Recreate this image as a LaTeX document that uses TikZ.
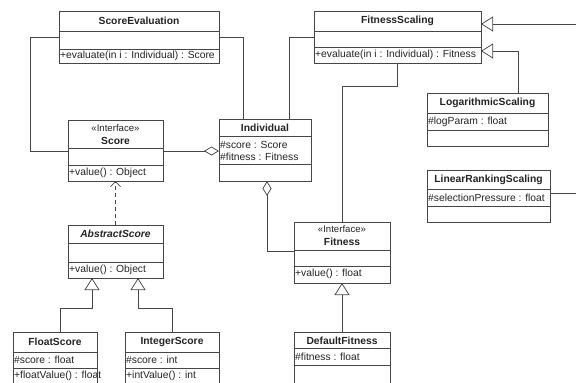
\documentclass[tikz,border=0pt]{standalone}
\usepackage{fontspec}
\setmainfont{Liberation Sans}
\usetikzlibrary{arrows.meta,shapes.geometric}
\definecolor{ln}{RGB}{70,70,70}
\definecolor{tx}{RGB}{35,35,35}
\tikzset{
  cls/.style={draw=ln, line width=0.75pt, anchor=north west, inner sep=0pt, outer sep=0pt},
  dv/.style={draw=ln, line width=0.75pt},
  ttl/.style={font=\fontsize{10.3}{11}\selectfont\bfseries, text=tx, inner sep=0pt, anchor=center},
  ster/.style={font=\fontsize{9.6}{11}\selectfont, text=tx, inner sep=0pt, anchor=center},
  mem/.style={font=\fontsize{10.3}{11}\selectfont, text=tx, inner sep=0pt, anchor=west},
  con/.style={draw=ln, line width=0.75pt},
  inh/.style={con, -{Triangle[open, length=12pt, width=15pt]}},
  agg/.style={con, {Diamond[open, length=15pt, width=9pt]}-},
  dep/.style={con, dashed, dash pattern=on 4pt off 3pt, -{Straight Barb[length=5pt, width=10pt]}},
}
\begin{document}
\begin{tikzpicture}[x=1pt, y=-1pt]
\useasboundingbox (0,0) rectangle (576,383);
\clip (0,0) rectangle (576,383);
% ScoreEvaluation
\node[cls, minimum width=160pt, minimum height=52pt] (se) at (59,11) {};
\draw[dv] (59,31) -- (219,31); \draw[dv] (59,49) -- (219,49);
\node[ttl] (set) at (139,21) {ScoreEvaluation};
\node[mem] (sem) at (60,56) {+evaluate(in i : Individual) : Score};
% Score
\node[cls, minimum width=95pt, minimum height=61pt] (sc) at (68,120) {};
\draw[dv] (68,148) -- (163,148); \draw[dv] (68,165) -- (163,165);
\node[ster] (scs) at (115.5,128) {«Interface»};
\node[ttl] (sct) at (115.5,141) {Score};
\node[mem] (scm) at (69,173) {+value() : Object};
% Individual
\node[cls, minimum width=92pt, minimum height=62pt] (in) at (219,119) {};
\draw[dv] (219,136) -- (311,136); \draw[dv] (219,164) -- (311,164);
\node[ttl] (int) at (265,128) {Individual};
\node[mem] (ina) at (220,145) {\#score : Score};
\node[mem] (inb) at (220,157) {\#fitness : Fitness};
% FitnessScaling
\node[cls, minimum width=167pt, minimum height=52pt] (fs) at (314,11) {};
\draw[dv] (314,31) -- (481,31); \draw[dv] (314,47) -- (481,47);
\node[ttl] (fst) at (397.5,21) {FitnessScaling};
\node[mem] (fsm) at (315,55) {+evaluate(in i : Individual) : Fitness};
% LogarithmicScaling
\node[cls, minimum width=121pt, minimum height=53pt] (lg) at (427,93) {};
\draw[dv] (427,113) -- (548,113); \draw[dv] (427,130) -- (548,130);
\node[ttl] (lgt) at (487.5,103) {LogarithmicScaling};
\node[mem] (lga) at (428,121.5) {\#logParam : float};
% LinearRankingScaling
\node[cls, minimum width=123pt, minimum height=52pt] (lr) at (427,170) {};
\draw[dv] (427,189) -- (550,189); \draw[dv] (427,206) -- (550,206);
\node[ttl] (lrt) at (488.5,179.5) {LinearRankingScaling};
\node[mem] (lra) at (428,197.5) {\#selectionPressure : float};
% Fitness
\node[cls, minimum width=96pt, minimum height=61pt] (fi) at (294,222) {};
\draw[dv] (294,250) -- (390,250); \draw[dv] (294,266) -- (390,266);
\node[ster] (fis) at (342,229.5) {«Interface»};
\node[ttl] (fit) at (342,242) {Fitness};
\node[mem] (fim) at (295,274) {+value() : float};
% DefaultFitness
\node[cls, minimum width=96pt, minimum height=70pt] (df) at (294,332) {};
\draw[dv] (294,348) -- (390,348); \draw[dv] (294,365) -- (390,365);
\node[ttl] (dft) at (342,340.5) {DefaultFitness};
\node[mem] (dfa) at (295,357) {\#fitness : float};
% AbstractScore
\node[cls, minimum width=95pt, minimum height=53pt] (as) at (68,225) {};
\draw[dv] (68,243) -- (163,243); \draw[dv] (68,262) -- (163,262);
\node[ttl, font=\fontsize{10.3}{11}\selectfont\bfseries\itshape] (ast) at (115.5,234) {AbstractScore};
\node[mem] (asm) at (69,270) {+value() : Object};
% FloatScore
\node[cls, minimum width=84pt, minimum height=70pt] (fl) at (13,332) {};
\draw[dv] (13,352) -- (97,352); \draw[dv] (13,368) -- (97,368);
\node[ttl] (flt) at (55,342) {FloatScore};
\node[mem] (fla) at (14,360) {\#score : float};
\node[mem] (flm) at (14,376) {+floatValue() : float};
% IntegerScore
\node[cls, minimum width=94pt, minimum height=70pt] (is) at (125,332) {};
\draw[dv] (125,352) -- (219,352); \draw[dv] (125,368) -- (219,368);
\node[ttl] (ist) at (172,342) {IntegerScore};
\node[mem] (isa) at (126,360) {\#score : int};
\node[mem] (ism) at (126,376) {+intValue() : int};
% free ends at the right edge
\coordinate (e1) at (576,24);
\coordinate (e2) at (576,193);
% connectors
\draw[con] (se.west |- 0,37) -- (30,37) -- (30,151) -- (sc.west |- 0,151);
\draw[con] (se.east |- 0,37) -- (243,37) -- (243,119);
\draw[agg] (in.west |- 0,151) -- (sc.east |- 0,151);
\draw[con] (289,119) -- (289,37) -- (fs.west |- 0,37);
\draw[agg] (267,181) -- (267,251) -- (fi.west |- 0,251);
\draw[con] (397,63) -- (397,86) -- (342,86) -- (342,222);
\draw[inh] (e1) -- (fs.east |- 0,24);
\draw[inh] (518,93) -- (518,51) -- (fs.east |- 0,51);
\draw[con] (lr.east |- 0,193) -- (e2);
\draw[inh] (342,332) -- (342,283);
\draw[dep] (115.5,225) -- (115.5,181);
\draw[inh] (60,332) -- (60,308) -- (92,308) -- (92,278);
\draw[inh] (172,332) -- (172,308) -- (138,308) -- (138,278);
\end{tikzpicture}
\end{document}
